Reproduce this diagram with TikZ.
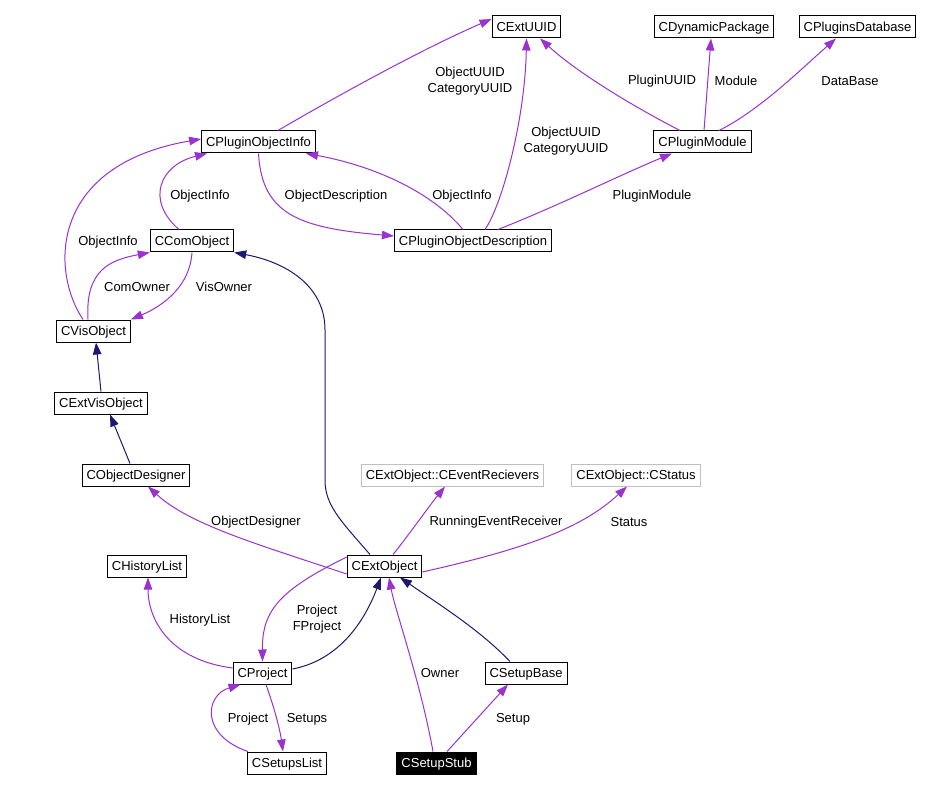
\documentclass[tikz,border=0pt]{standalone}
\usepackage{fontspec}
\setmainfont{Liberation Sans}
\usetikzlibrary{arrows.meta}

\definecolor{usecol}{RGB}{154,50,205}
\definecolor{inhcol}{RGB}{25,25,112}
\definecolor{extcol}{RGB}{191,191,191}

\tikzset{every picture/.style={line width=1pt}}
\tikzset{
  cls/.style={draw, line width=1pt, rectangle, inner xsep=4.5pt, inner ysep=0pt, minimum height=22pt, text height=9.5pt, text depth=0.5pt, font=\fontsize{13}{16}\selectfont},
  extcls/.style={cls, draw=extcol},
  curcls/.style={cls, fill=black, text=white},
  lbl/.style={inner sep=0pt, align=center, font=\fontsize{13}{16}\selectfont},
  usage/.style={draw=usecol, -{Triangle[length=12pt,width=8.5pt,fill=usecol]}},
  inherit/.style={draw=inhcol, -{Triangle[length=12pt,width=8.5pt,fill=inhcol]}}
}

\begin{document}
\begin{tikzpicture}[x=1pt,y=1pt,yscale=-1,xscale=1]
\useasboundingbox (0,0) rectangle (928,791);

% Class Nodes
\node [cls] (extuuid) at (526.5,27) {CExtUUID};
\node [cls] (dynpkg) at (714,27) {CDynamicPackage};
\node [cls] (plugdb) at (857.5,27) {CPluginsDatabase};
\node [cls] (poi) at (258.5,142) {CPluginObjectInfo};
\node [cls] (pmod) at (702.5,142) {CPluginModule};
\node [cls] (pod) at (473,241) {CPluginObjectDescription};
\node [cls] (comobj) at (192,241) {CComObject};
\node [cls] (visobj) at (93.5,331) {CVisObject};
\node [cls] (extvis) at (101,403) {CExtVisObject};
\node [cls] (objdes) at (136,475) {CObjectDesigner};
\node [extcls] (evrec) at (452.5,475) {CExtObject::CEventRecievers};
\node [extcls] (cstatus) at (636,475) {CExtObject::CStatus};
\node [cls] (extobj) at (384.5,566) {CExtObject};
\node [cls] (histlist) at (147,566) {CHistoryList};
\node [cls] (project) at (262.5,673) {CProject};
\node [cls] (setupbase) at (526,673) {CSetupBase};
\node [cls] (setupslist) at (287,763) {CSetupsList};
\node [curcls] (setupstub) at (436.5,763) {CSetupStub};

%Curve Lines (usage)
\draw [usage] ([xshift=19.5pt]poi.north) .. controls (330,100) and (420,50) .. ([yshift=-8pt]extuuid.west);
\draw [usage] ([xshift=12pt]pod.north) .. controls (502,205) and (525,120) .. (extuuid.south);
\draw [usage] ([xshift=-22.5pt]pmod.north) .. controls (640,110) and (580,75) .. ([xshift=13.5pt]extuuid.south);
\draw [usage] ([xshift=1.5pt]pmod.north) -- ([xshift=-3pt]dynpkg.south);
\draw [usage] ([xshift=16.5pt]pmod.north) .. controls (760,110) and (800,70) .. ([xshift=-21.5pt]plugdb.south);
\draw [usage] (poi.south) .. controls (262,215) and (300,228) .. ([yshift=-5pt]pod.west);
\draw [usage] ([xshift=-10pt]pod.north) .. controls (430,190) and (370,165) .. ([xshift=47.5pt]poi.south);
\draw [usage] ([xshift=25pt]pod.north) .. controls (560,205) and (620,175) .. ([xshift=-30.5pt]pmod.south);
\draw [usage] ([xshift=-13pt]comobj.north) .. controls (145,200) and (160,165) .. ([xshift=-51.5pt]poi.south);
\draw [usage] ([xshift=-10.5pt]visobj.north) .. controls (50,270) and (50,165) .. ([yshift=-3pt]poi.west);
\draw [usage] ([xshift=-5.5pt]visobj.north) .. controls (85,270) and (110,260) .. (comobj.south west);
\draw [usage] (comobj.south) .. controls (190,285) and (165,305) .. (visobj.north east);
\draw [usage] ([yshift=8pt]extobj.west) .. controls (260,545) and (190,525) .. ([xshift=12pt]objdes.south);
\draw [usage] ([xshift=8.5pt]extobj.north) .. controls (405,540) and (430,505) .. ([xshift=-7.5pt]evrec.south);
\draw [usage] ([yshift=6pt]extobj.east) .. controls (520,550) and (580,530) .. ([xshift=-9pt]cstatus.south);
\draw [usage] ([yshift=-9pt]extobj.west) .. controls (280,590) and (262,610) .. (project.north);
\draw [usage] ([yshift=-5pt]project.west) .. controls (170,660) and (148,620) .. ([xshift=1pt]histlist.south);
\draw [usage] ([xshift=3.5pt]project.south) .. controls (275,710) and (280,730) .. ([xshift=-4pt]setupslist.north);
\draw [usage] ([xshift=1pt]setupslist.north west) .. controls (200,735) and (205,695) .. ([xshift=8pt]project.south west);
\draw [usage] ([xshift=-3.5pt]setupstub.north) .. controls (420,680) and (395,610) .. ([xshift=4.5pt]extobj.south);
\draw [usage] ([xshift=10.5pt]setupstub.north) -- ([xshift=-18pt]setupbase.south);

%Curve Lines (inheritance)
\draw [inherit] (extvis.north) -- ([xshift=2.5pt]visobj.south);
\draw [inherit] ([xshift=-6pt]objdes.north) -- ([xshift=9pt]extvis.south);
\draw [inherit] ([xshift=-14.5pt]extobj.north) .. controls (340,520) and (325,505) .. (325,480) -- (325,330) .. controls (325,285) and (285,262) .. (comobj.south east);
\draw [inherit] ([yshift=-4pt]project.east) .. controls (340,660) and (365,620) .. ([xshift=-3.5pt]extobj.south);
\draw [inherit] ([xshift=-16pt]setupbase.north) .. controls (480,630) and (440,605) .. ([xshift=15.5pt]extobj.south);

% Text Node
\node [lbl] (l1) at (470,81) {ObjectUUID\\CategoryUUID};
\node [lbl] (l2) at (566,141) {ObjectUUID\\CategoryUUID};
\node [lbl] (l3) at (662,81) {PluginUUID};
\node [lbl] (l4) at (736,81) {Module};
\node [lbl] (l5) at (850,81) {DataBase};
\node [lbl] (l6) at (336,196) {ObjectDescription};
\node [lbl] (l7) at (462,196) {ObjectInfo};
\node [lbl] (l8) at (652,196) {PluginModule};
\node [lbl] (l9) at (200,196) {ObjectInfo};
\node [lbl] (l10) at (108,242) {ObjectInfo};
\node [lbl] (l11) at (137,287) {ComOwner};
\node [lbl] (l12) at (224,287) {VisOwner};
\node [lbl] (l13) at (256,522) {ObjectDesigner};
\node [lbl] (l14) at (496,522) {RunningEventReceiver};
\node [lbl] (l15) at (629,522) {Status};
\node [lbl] (l16) at (317,619) {Project\\FProject};
\node [lbl] (l17) at (200,620) {HistoryList};
\node [lbl] (l18) at (248,719) {Project};
\node [lbl] (l19) at (307,719) {Setups};
\node [lbl] (l20) at (440,673) {Owner};
\node [lbl] (l21) at (513,719) {Setup};
\end{tikzpicture}
\end{document}
